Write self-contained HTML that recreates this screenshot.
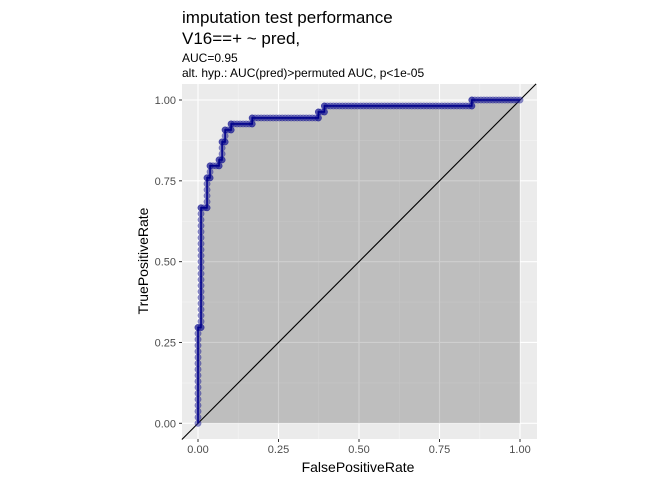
<!DOCTYPE html>
<html><head><meta charset="utf-8"><style>
body{margin:0;background:#fff;}
svg text{font-family:"Liberation Sans",Arial,sans-serif;}
</style></head><body>
<svg id="chart" width="672" height="480" xmlns="http://www.w3.org/2000/svg">
<text x="182" y="23" font-size="17" fill="#000">imputation test performance</text>
<text x="182" y="44" font-size="17" fill="#000">V16==+ ~ pred,</text>
<text x="182" y="62" font-size="12" fill="#000">AUC=0.95</text>
<text x="182" y="77" font-size="12" fill="#000">alt. hyp.: AUC(pred)&gt;permuted AUC, p&lt;1e-05</text>
<rect x="182" y="84" width="355" height="355" fill="#ebebeb"/>
<g id="grid"></g>
<g id="marks"></g>
<text x="358" y="472" font-size="14" text-anchor="middle" fill="#000">FalsePositiveRate</text>
<text transform="translate(148,261) rotate(-90)" font-size="14" text-anchor="middle" fill="#000">TruePositiveRate</text>
</svg>
<script>
const nNeg = 107;
const nPos = 54;
// ROC vertices in counts (false positives, true positives)
const fpCounts = [0,0,1,1,3,3,4,4,7,7,8,8,9,9,11,11,18,18,40,40,42,42,91,91,107];
const tpCounts = [0,16,16,36,36,41,41,43,43,44,44,47,47,49,49,50,50,51,51,52,52,53,53,54,54];
const ticks = [0,0.25,0.5,0.75,1];
const tickLabels = ["0.00","0.25","0.50","0.75","1.00"];

const NS="http://www.w3.org/2000/svg";
const X = v => 198 + v*322;
const Y = v => 423.3 - v*323.3;
function mk(tag, attrs, parent){const e=document.createElementNS(NS,tag);for(const k in attrs)e.setAttribute(k,attrs[k]);parent.appendChild(e);return e;}
const grid=document.getElementById('grid'), marks=document.getElementById('marks'), svg=document.getElementById('chart');
for(let i=0;i<ticks.length-1;i++){
  const m=(ticks[i]+ticks[i+1])/2;
  const gx=mk('line',{x1:X(m),x2:X(m),y1:84,y2:439,stroke:'#f5f5f5','stroke-width':0.6},grid);
  
  
  const gy=mk('line',{x1:182,x2:537,y1:Y(m),y2:Y(m),stroke:'#f5f5f5','stroke-width':0.6},grid);
  
  
}
ticks.forEach((t,i)=>{
  const gx=mk('line',{x1:X(t),x2:X(t),y1:84,y2:439,stroke:'#fff','stroke-width':1.1},grid);
  
  
  const gy=mk('line',{x1:182,x2:537,y1:Y(t),y2:Y(t),stroke:'#fff','stroke-width':1.1},grid);
  
  
  mk('line',{x1:X(t),x2:X(t),y1:439,y2:442,stroke:'#333'},svg);
  mk('line',{x1:179,x2:182,y1:Y(t),y2:Y(t),stroke:'#333'},svg);
  const tx=mk('text',{x:X(t),y:453,'font-size':11,'text-anchor':'middle',fill:'#4d4d4d'},svg);
  tx.textContent=tickLabels[i];
  
  
  const ty=mk('text',{x:176,y:Y(t)+4,'font-size':11,'text-anchor':'end',fill:'#4d4d4d'},svg);
  ty.textContent=tickLabels[i];
  
  
});
let pts=fpCounts.map((f,i)=>X(f/nNeg)+','+Y(tpCounts[i]/nPos));
const area=mk('polygon',{points:pts.join(' ')+' '+X(1)+','+Y(0)+' '+X(0)+','+Y(0),fill:'rgba(0,0,0,0.19)'},marks);


const diag=mk('line',{x1:X(-0.05),y1:Y(-0.05),x2:X(1.05),y2:Y(1.05),stroke:'#000','stroke-width':1.1},marks);


const dots=mk('g',{},marks);
for(let i=0;i<fpCounts.length-1;i++){
  let f0=fpCounts[i],t0=tpCounts[i],f1=fpCounts[i+1],t1=tpCounts[i+1];
  const n=Math.max(Math.abs(f1-f0),Math.abs(t1-t0));
  for(let k=0;k<=n;k++){
    const f=f0+(f1-f0)*k/(n||1), t=t0+(t1-t0)*k/(n||1);
    const c=mk('circle',{cx:X(f/nNeg),cy:Y(t/nPos),r:3.2,fill:'rgba(30,30,150,0.5)',stroke:'rgba(0,0,139,0.35)','stroke-width':0.5},dots);
    
    
  }
}
const line=mk('polyline',{points:pts.join(' '),fill:'none',stroke:'#00008b','stroke-width':1.6},marks);


</script>
</body></html>
